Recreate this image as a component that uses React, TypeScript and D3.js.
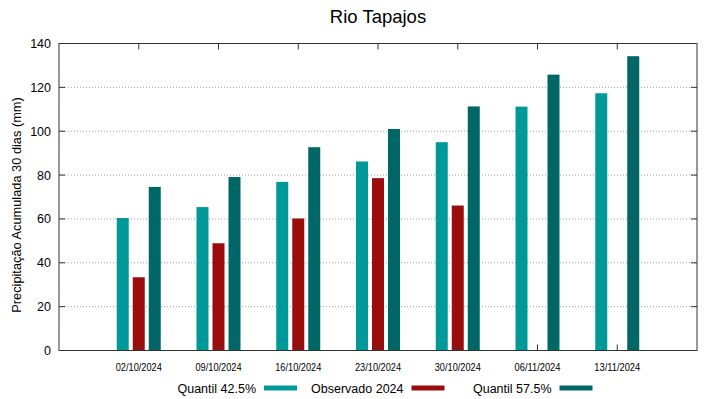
import React, { useEffect, useRef } from 'react';
import * as d3 from 'd3';

const dates = ['02/10/2024', '09/10/2024', '16/10/2024', '23/10/2024', '30/10/2024', '06/11/2024', '13/11/2024'];
const quantil425 = [60.4, 65.4, 76.9, 86.2, 95.0, 111.2, 117.3];
const observado2024: (number | null)[] = [33.4, 48.9, 60.2, 78.6, 66.1, null, null];
const quantil575 = [74.6, 79.1, 92.7, 101.0, 111.3, 125.8, 134.2];
const yTicks = [0, 20, 40, 60, 80, 100, 120, 140];

const series = [
  { name: 'Quantil 42.5%', values: quantil425 as (number | null)[], color: '#009999', offset: -1 },
  { name: 'Observado 2024', values: observado2024, color: '#9b0d0d', offset: 0 },
  { name: 'Quantil 57.5%', values: quantil575 as (number | null)[], color: '#006666', offset: 1 },
];

const width = 719;
const height = 399;

const App: React.FC = () => {
  const svgRef = useRef<SVGSVGElement>(null);

  useEffect(() => {
    if (!svgRef.current) return;
    const svg = d3.select(svgRef.current);
    svg.selectAll('*').remove();

    const margin = { top: 43.5, right: 22, bottom: 48.5, left: 59 };
    const innerWidth = width - margin.left - margin.right;
    const innerHeight = height - margin.top - margin.bottom;
    const font = '"Liberation Sans", Arial, sans-serif';

    const g = svg.append('g').attr('transform', `translate(${margin.left},${margin.top})`);

    // Scales (gnuplot style: categories at 1..7 in 0..8)
    const xScale = d3.scaleLinear().domain([0, dates.length + 1]).range([0, innerWidth]);
    const yScale = d3.scaleLinear().domain([0, 140]).range([innerHeight, 0]);
    const barW = 12;
    const step = 16;

    // Grid
    g.append('g')
      .selectAll('line')
      .data(yTicks.slice(1, -1))
      .join('line')
      .attr('x1', 0)
      .attr('x2', innerWidth)
      .attr('y1', d => yScale(d))
      .attr('y2', d => yScale(d))
      .attr('stroke', '#a0a0a0')
      .attr('stroke-width', 1)
      .attr('stroke-dasharray', '1,2');

    // Bars
    series.forEach(s => {
      g.append('g')
        .selectAll('rect')
        .data(s.values.map((v, i) => ({ v, i })).filter(d => d.v !== null))
        .join('rect')
        .attr('x', d => xScale(d.i + 1) + s.offset * step - barW / 2)
        .attr('y', d => yScale(d.v as number))
        .attr('width', barW)
        .attr('height', d => innerHeight - yScale(d.v as number))
        .attr('fill', s.color);
    });

    // Frame
    g.append('rect')
      .attr('width', innerWidth)
      .attr('height', innerHeight)
      .attr('fill', 'none')
      .attr('stroke', '#333')
      .attr('stroke-width', 1);

    // Y ticks (inward, mirrored)
    const tickLen = 6;
    yTicks.forEach(t => {
      const y = yScale(t);
      g.append('line').attr('x1', 0).attr('x2', tickLen).attr('y1', y).attr('y2', y).attr('stroke', '#333');
      g.append('line').attr('x1', innerWidth - tickLen).attr('x2', innerWidth).attr('y1', y).attr('y2', y).attr('stroke', '#333');
      g.append('text')
        .attr('x', -8)
        .attr('y', y + 4.5)
        .attr('text-anchor', 'end')
        .attr('font-family', font)
        .attr('font-size', '12.5px')
        .attr('fill', '#000')
        .text(t);
    });

    // X ticks and labels
    dates.forEach((d, i) => {
      const x = xScale(i + 1);
      g.append('line').attr('x1', x).attr('x2', x).attr('y1', innerHeight).attr('y2', innerHeight - tickLen).attr('stroke', '#333');
      g.append('line').attr('x1', x).attr('x2', x).attr('y1', 0).attr('y2', tickLen).attr('stroke', '#333');
      g.append('text')
        .attr('x', x)
        .attr('y', innerHeight + 20.5)
        .attr('text-anchor', 'middle')
        .attr('font-family', font)
        .attr('font-size', '10.5px')
        .attr('textLength', 46)
        .attr('lengthAdjust', 'spacingAndGlyphs')
        .attr('fill', '#000')
        .text(d);
    });

    // Title
    svg.append('text')
      .attr('x', margin.left + innerWidth / 2)
      .attr('y', 23)
      .attr('text-anchor', 'middle')
      .attr('font-family', font)
      .attr('font-size', '18.5px')
      .attr('fill', '#000')
      .text('Rio Tapajos');

    // Y axis label
    svg.append('text')
      .attr('transform', `translate(21, 205) rotate(-90)`)
      .attr('text-anchor', 'middle')
      .attr('font-family', font)
      .attr('font-size', '12.8px')
      .attr('fill', '#000')
      .text('Precipitação Acumulada 30 dias (mm)');

    // Legend
    const legendX = [264, 411.5, 559.5];
    series.forEach((s, i) => {
      const lg = svg.append('g').attr('transform', `translate(${legendX[i]}, 388)`);
      lg.append('rect')
        .attr('x', 0)
        .attr('y', -2.5)
        .attr('width', 33)
        .attr('height', 5)
        .attr('fill', s.color);
      lg.append('text')
        .attr('x', -8)
        .attr('y', 4.5)
        .attr('text-anchor', 'end')
        .attr('font-family', font)
        .attr('font-size', '12.5px')
        .attr('fill', '#000')
        .text(s.name);
    });
  }, []);

  return (
    <div style={{ position: 'absolute', top: 0, left: 0 }}>
      <svg ref={svgRef} width={width} height={height} style={{ display: 'block', background: '#fff' }} />
    </div>
  );
};

export default App;
